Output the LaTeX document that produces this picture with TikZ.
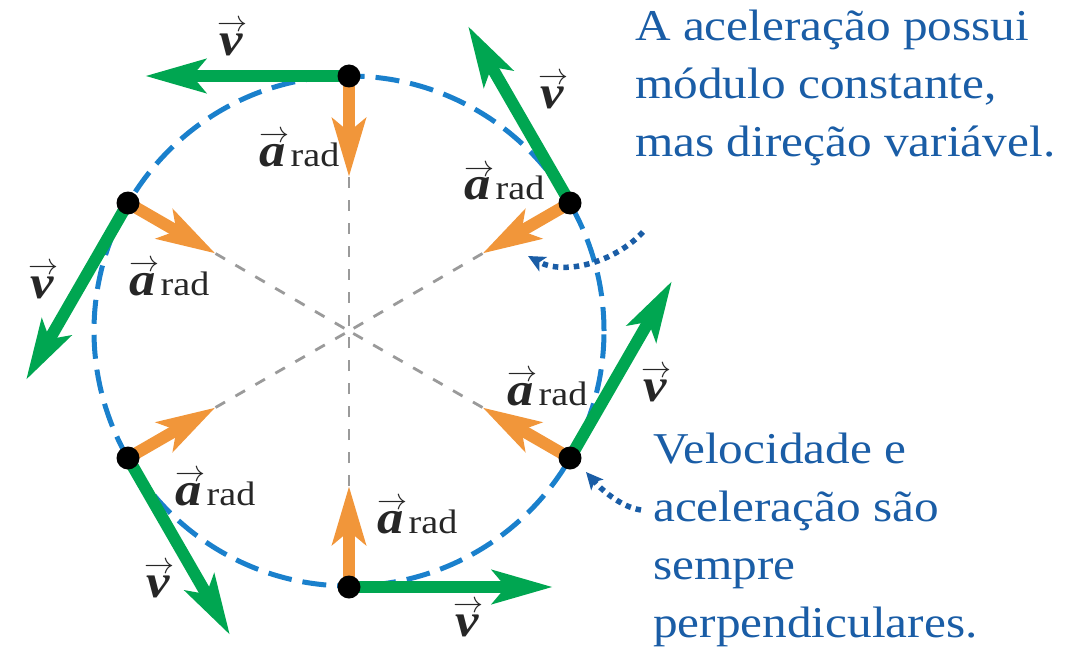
\RequirePackage{fix-cm}
\documentclass[tikz,border=0pt]{standalone}
\usepackage{fontspec}
\setmainfont{Liberation Serif}[FakeStretch=1.12]
\usetikzlibrary{arrows.meta}
\definecolor{vgreen}{HTML}{00A651}
\definecolor{aorange}{HTML}{F1963A}
\definecolor{cblue}{HTML}{1A80CC}
\definecolor{tblue}{HTML}{1A5DA6}
\definecolor{lgrey}{HTML}{9A9A9A}
\newcommand\vecsym[1]{\ooalign{\hfil\kern3pt\raisebox{24pt}{\fontsize{30}{30}\selectfont$\rightarrow$}\hfil\cr\hfil#1\hfil\cr}}
\newcommand\velv{\vecsym{\bfseries\itshape v}}
\newcommand\arad{\vecsym{\bfseries\itshape a}\kern1.5pt{\fontsize{34}{34}\selectfont rad}}
\begin{document}
\begin{tikzpicture}[x=1pt,y=-1pt,
  txt/.style={font=\fontsize{44}{58}\selectfont, text=tblue, align=left, inner sep=0pt},
  lab/.style={font=\fontsize{47}{47}\selectfont, inner sep=0pt, text=black!85},
  circ/.style={cblue, line width=5pt, dash pattern=on 24pt off 11pt},
  gline/.style={lgrey, line width=2.8pt, dash pattern=on 11pt off 12pt},
  aarr/.style={aorange, line width=12pt, -{Stealth[length=58pt,width=33pt,inset=13pt]}},
  varr/.style={vgreen, line width=12pt, -{Stealth[length=60pt,width=33pt,inset=13pt]}},
  dotarr/.style={tblue, line width=5.5pt, dash pattern=on 5.5pt off 5pt, -{Stealth[length=17pt,width=16pt,inset=4pt]}},
  dot/.style={circle, fill=black, inner sep=0pt, minimum size=23pt}]
\useasboundingbox (0,0) rectangle (1075,647);
% centre and points on the path
\coordinate (O) at (349,331);
\coordinate (P90) at (349,76);
\coordinate (P150) at (128,203);
\coordinate (P210) at (128,458);
\coordinate (P270) at (349,587);
\coordinate (P330) at (570,458);
\coordinate (P30) at (570,203);
% tips of the acceleration vectors
\coordinate (T90) at (349,177);
\coordinate (T150) at (215.5,253.5);
\coordinate (T210) at (215.5,407.5);
\coordinate (T270) at (349,486);
\coordinate (T330) at (482.5,407.5);
\coordinate (T30) at (482.5,253.5);
% tips of the velocity vectors
\coordinate (V90) at (145,76);
\coordinate (V150) at (26,380);
\coordinate (V210) at (230,635);
\coordinate (V270) at (553,587);
\coordinate (V330) at (672,281);
\coordinate (V30) at (468,26);
% circle
\draw[circ] (O) circle[radius=255pt];
% radial guide lines
\foreach \a in {90,150,210,270,330,30} \draw[gline] (T\a) -- (O);
% acceleration arrows
\foreach \a in {90,150,210,270,330,30} \draw[aarr] (P\a) -- (T\a);
% velocity arrows
\foreach \a in {90,150,210,270,330,30} \draw[varr] (P\a) -- (V\a);
% particle dots
\foreach \a in {90,150,210,270,330,30} \node[dot] (d\a) at (P\a) {};
% labels
\node[lab] (v90) at (231,38) {\velv};
\node[lab] (v30) at (552,91) {\velv};
\node[lab] (v150) at (42,281) {\velv};
\node[lab] (v210) at (158,580) {\velv};
\node[lab] (v270) at (467,619) {\velv};
\node[lab] (v330) at (655,384) {\velv};
\node[lab, anchor=base west] (a90) at (256,167) {\arad};
\node[lab, anchor=base west] (a30) at (461,200) {\arad};
\node[lab, anchor=base west] (a150) at (126,295) {\arad};
\node[lab, anchor=base west] (a330) at (504,405) {\arad};
\node[lab, anchor=base west] (a210) at (172,505) {\arad};
\node[lab, anchor=base west] (a270) at (374,533) {\arad};
% texts
\node[txt, anchor=base west] (t1) at (635,157) {A aceleração possui\\módulo constante,\\mas direção variável.};
\node[txt, anchor=base west] (t2) at (653,637) {Velocidade e\\aceleração são\\sempre\\perpendiculares.};
% pointer arrows
\coordinate (c1s) at (643,232);
\coordinate (c1e) at (528,256);
\coordinate (c2s) at (641,510);
\coordinate (c2e) at (586,472);
\draw[dotarr] (c1s) .. controls (615,262) and (565,276) .. (c1e);
\draw[dotarr] (c2s) .. controls (620,507) and (600,488) .. (c2e);
\end{tikzpicture}
\end{document}
